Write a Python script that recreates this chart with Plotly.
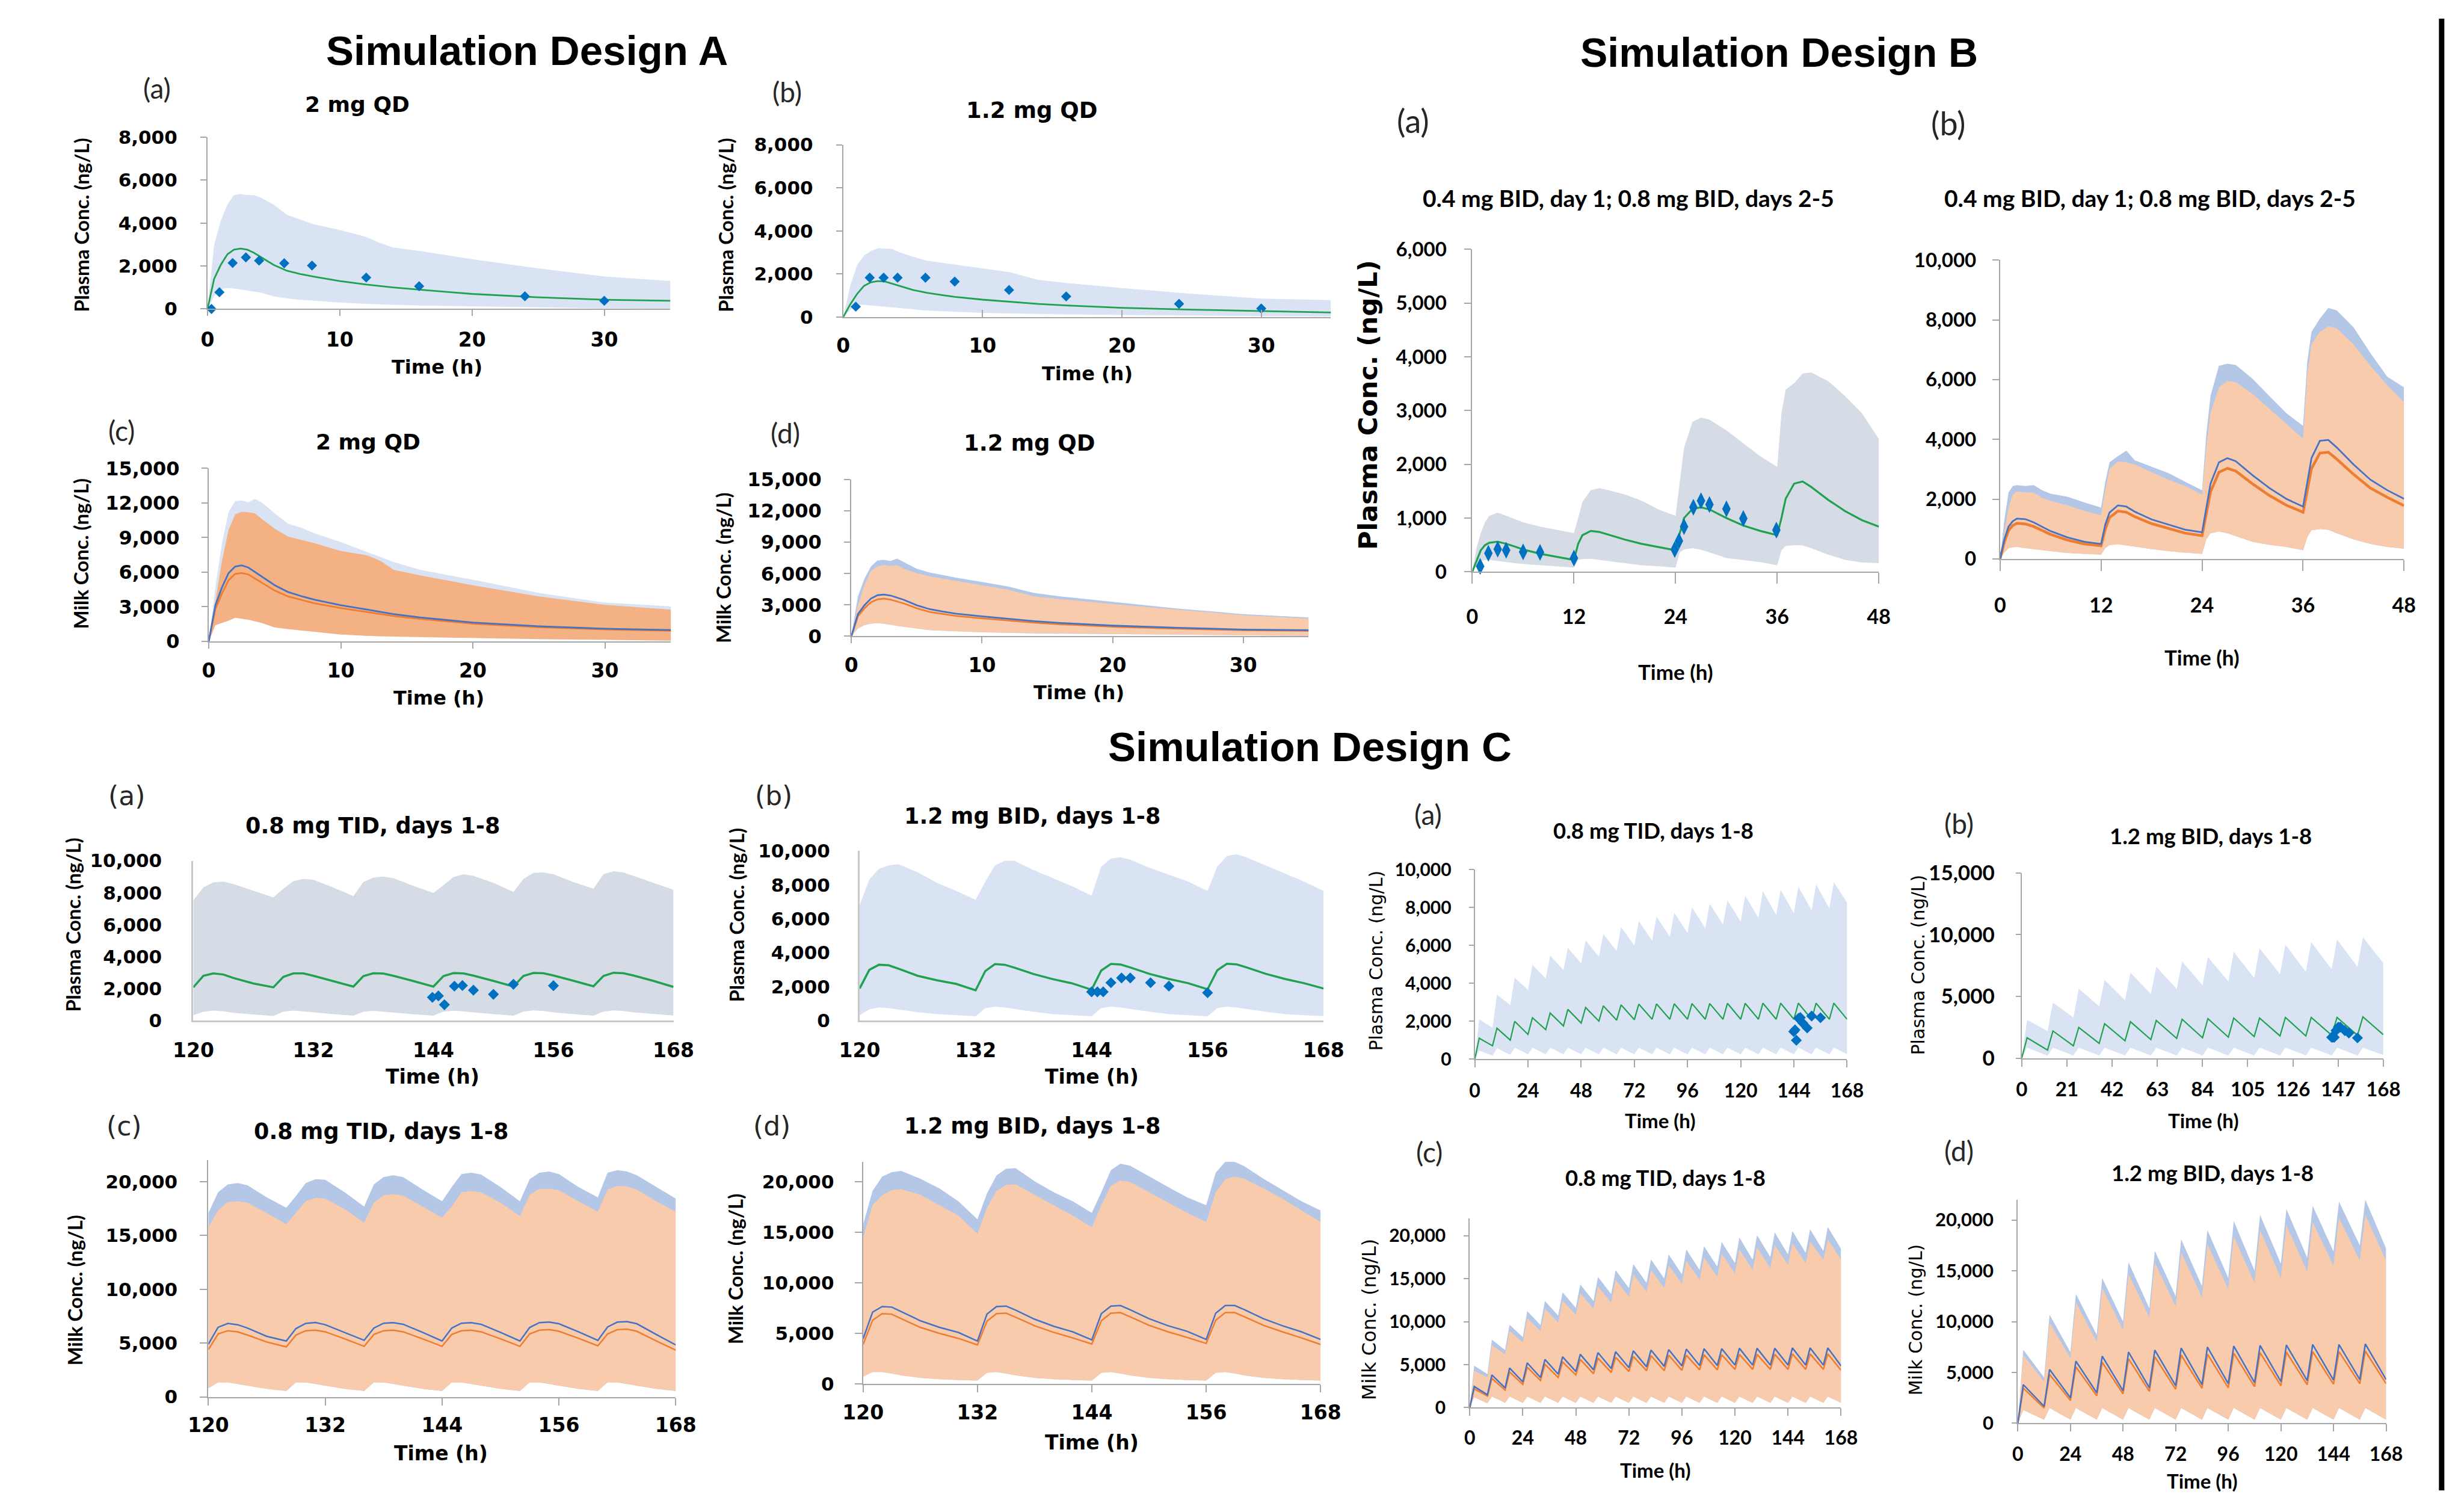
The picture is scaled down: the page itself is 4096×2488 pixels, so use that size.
import plotly.graph_objects as go

# ============================ DATA ============================
# ---- Design A : single dose, time grid (h)
tA = [0, 0.5, 1, 1.5, 2, 2.5, 3, 3.5, 4, 5, 6, 7, 8, 10, 12, 13, 14, 16, 20, 25, 30, 35]
# (a) plasma, 2 mg QD
A_a_p95 = [0, 2970, 4100, 4860, 5300, 5350, 5300, 5300, 5190, 4860, 4380, 4160, 3950, 3675, 3350, 3080, 2860, 2700, 2320, 1890, 1510, 1300]
A_a_p05 = [0, 590, 920, 970, 950, 910, 865, 810, 760, 590, 490, 430, 380, 300, 240, 215, 195, 160, 110, 75, 30, 20]
A_a_med = [0, 1400, 2050, 2540, 2760, 2810, 2760, 2620, 2430, 2050, 1780, 1630, 1510, 1300, 1135, 1065, 1005, 900, 700, 540, 430, 380]
A_a_obs_t = [0.3, 0.9, 1.9, 2.9, 3.9, 5.8, 7.9, 12, 16, 24, 30]
A_a_obs_v = [0, 780, 2140, 2400, 2250, 2130, 2020, 1460, 1060, 590, 380]
# (b) plasma, 1.2 mg QD
A_b_p95 = [0, 1455, 2425, 2860, 3070, 3200, 3180, 3160, 3020, 2800, 2620, 2530, 2450, 2260, 2080, 1900, 1725, 1585, 1350, 1080, 860, 790]
A_b_p05 = [0, 320, 570, 565, 540, 510, 485, 460, 430, 360, 300, 270, 250, 195, 165, 150, 140, 125, 100, 65, 45, 30]
A_b_med = [0, 590, 1080, 1455, 1620, 1670, 1650, 1560, 1455, 1260, 1130, 1030, 940, 810, 700, 650, 610, 540, 430, 345, 290, 215]
A_b_obs_t = [0.9, 1.9, 2.9, 3.9, 5.9, 8, 11.9, 16, 24.1, 30]
A_b_obs_v = [485, 1830, 1830, 1830, 1830, 1650, 1260, 960, 615, 400]
# (c) milk, 2 mg QD
A_c_p95_b = [0, 4670, 8510, 11200, 12160, 12220, 12060, 12350, 12060, 11100, 10200, 9850, 9370, 8600, 7740, 7300, 6880, 6200, 5340, 4190, 3360, 3035]
A_c_p95_o = [0, 3520, 6970, 9660, 11000, 11240, 11200, 11100, 10620, 9760, 9090, 8800, 8510, 7840, 7450, 6970, 6200, 5720, 4860, 3900, 3170, 2750]
A_c_p05 = [0, 1400, 1600, 1790, 2040, 1960, 1880, 1740, 1600, 1210, 1060, 940, 830, 600, 480, 440, 400, 360, 290, 190, 135, 60]
A_c_med_b = [0, 3130, 4670, 5920, 6490, 6590, 6400, 6020, 5630, 4860, 4280, 3920, 3610, 3130, 2750, 2550, 2360, 2075, 1630, 1310, 1095, 980]
A_c_med_o = [0, 2800, 4150, 5300, 5850, 5920, 5800, 5450, 5100, 4400, 3900, 3580, 3300, 2880, 2530, 2360, 2200, 1950, 1530, 1230, 1030, 920]
# (d) milk, 1.2 mg QD
A_d_p95_b = [0, 3820, 5520, 6680, 7260, 7320, 7210, 7430, 7110, 6470, 6110, 5860, 5620, 5200, 4770, 4450, 4140, 3820, 3290, 2650, 2120, 1800]
A_d_p95_o = [0, 2970, 4880, 6260, 6680, 6830, 6730, 6790, 6470, 6050, 5730, 5510, 5300, 4880, 4460, 4140, 3820, 3560, 3080, 2550, 2020, 1700]
A_d_p05 = [0, 740, 1060, 1200, 1270, 1190, 1100, 990, 890, 740, 590, 530, 470, 380, 330, 300, 275, 250, 190, 150, 85, 40]
A_d_med_b = [0, 2120, 2970, 3610, 3930, 3990, 3900, 3700, 3500, 2970, 2590, 2360, 2160, 1910, 1660, 1550, 1440, 1270, 1020, 810, 640, 575]
A_d_med_o = [0, 1900, 2680, 3260, 3540, 3600, 3510, 3330, 3150, 2680, 2330, 2130, 1950, 1720, 1500, 1400, 1300, 1150, 920, 730, 580, 520]

# ---- Design B : 0.4 mg BID day 1; 0.8 mg BID days 2-5
tB = [0, 0.5, 1, 1.5, 2, 3, 4, 5, 6, 8, 10, 12, 12.5, 13, 14, 15, 16, 18, 20, 22,
      24, 24.5, 25, 26, 27, 28, 30, 32, 34, 36, 36.5, 37, 38, 39, 40, 42, 44, 46, 48]
B_a_p95 = [0, 440, 720, 920, 1040, 1100, 1040, 980, 920, 840, 780, 720, 1000, 1300, 1520, 1556, 1520, 1440, 1320, 1160,
           1040, 1700, 2310, 2790, 2870, 2830, 2630, 2390, 2150, 1950, 2950, 3390, 3510, 3690, 3710, 3550, 3270, 2950, 2470]
B_a_p05 = [0, 120, 200, 215, 220, 200, 180, 160, 145, 120, 100, 80, 220, 235, 240, 225, 200, 160, 120, 100,
           80, 360, 415, 440, 410, 360, 255, 215, 180, 120, 400, 480, 495, 490, 440, 320, 220, 175, 160]
B_a_med = [0, 200, 400, 495, 540, 560, 520, 470, 415, 335, 280, 220, 520, 680, 760, 740, 695, 600, 520, 460,
           400, 720, 1000, 1170, 1200, 1160, 1000, 860, 760, 680, 1000, 1360, 1640, 1680, 1580, 1340, 1130, 960, 840]
B_obs_t = [0.93, 1.9, 3, 4, 6, 8, 12, 23.9, 24.4, 25, 26.1, 27, 28, 30, 32, 35.9]
B_obs_v = [100, 345, 420, 400, 370, 360, 255, 415, 575, 840, 1200, 1320, 1250, 1170, 990, 775]
B_b_p95_b = [0, 1290, 2220, 2440, 2470, 2440, 2470, 2300, 2180, 2080, 1890, 1720, 2580, 3230, 3440, 3620, 3300, 3085, 2870, 2580,
             2300, 4160, 5450, 6460, 6530, 6490, 6030, 5450, 4880, 4450, 6600, 7600, 8040, 8400, 8320, 7750, 6890, 6100, 5740]
B_b_p95_o = [0, 860, 1720, 2150, 2250, 2220, 2220, 2040, 1940, 1790, 1610, 1460, 2300, 3010, 3260, 3230, 3160, 2900, 2650, 2440,
             2150, 3730, 4880, 5740, 5950, 5910, 5520, 5020, 4520, 4020, 6170, 7180, 7600, 7780, 7720, 7180, 6460, 5810, 5240]
B_b_p05 = [0, 215, 360, 390, 400, 360, 330, 290, 260, 200, 170, 145, 360, 460, 490, 450, 400, 330, 260, 210,
           170, 650, 860, 920, 860, 760, 570, 470, 400, 290, 720, 960, 1000, 975, 860, 650, 500, 400, 345]
B_b_med_b = [0, 650, 1080, 1260, 1350, 1330, 1220, 1080, 930, 720, 575, 500, 1150, 1550, 1790, 1750, 1580, 1320, 1150, 975,
             890, 1720, 2510, 3230, 3370, 3270, 2800, 2370, 2010, 1750, 2580, 3370, 3950, 3980, 3730, 3160, 2650, 2300, 2010]
B_b_med_o = [0, 560, 950, 1120, 1190, 1170, 1080, 950, 820, 630, 500, 440, 1000, 1380, 1600, 1560, 1410, 1180, 1020, 860,
             780, 1520, 2240, 2900, 3030, 2940, 2510, 2120, 1800, 1560, 2320, 3020, 3540, 3570, 3340, 2830, 2370, 2060, 1780]

# ---- Design C, days 6-7 window (120-168 h)
tC_tid = [120, 121, 122, 123, 124, 126, 128, 129, 130, 131, 132, 134, 136, 137, 138, 139, 140, 142, 144,
          145, 146, 147, 148, 150, 152, 153, 154, 155, 156, 158, 160, 161, 162, 163, 164, 166, 168]
CL_a_p95 = [7530, 8330, 8650, 8690, 8540, 8110, 7700, 8250, 8720, 8860, 8810, 8330, 7790, 8660, 8950, 9010, 8910, 8430, 7990,
            8470, 8980, 9150, 9050, 8620, 8040, 8860, 9240, 9270, 9150, 8660, 8250, 9150, 9340, 9270, 9050, 8620, 8180]
CL_a_p05 = [330, 550, 625, 580, 480, 380, 290, 550, 625, 590, 520, 400, 300, 550, 610, 580, 500, 390, 300,
            560, 620, 590, 510, 400, 300, 560, 630, 600, 510, 400, 300, 560, 630, 600, 510, 400, 310]
CL_a_med = [2080, 2800, 2950, 2880, 2660, 2320, 2080, 2730, 2950, 2950, 2800, 2470, 2120, 2780, 2960, 2940, 2800, 2470, 2120,
            2780, 2970, 2950, 2810, 2480, 2130, 2790, 2980, 2960, 2820, 2490, 2140, 2790, 2990, 2960, 2820, 2480, 2100]
CL_c_p95_b = [17100, 19030, 19750, 19880, 19680, 18550, 17580, 18670, 19880, 20240, 20190, 19030, 17700, 19750, 20430, 20600, 20430, 19270, 18180,
              19510, 20720, 20840, 20670, 19510, 18180, 20240, 20840, 20960, 20720, 19510, 18550, 20840, 21080, 20960, 20600, 19510, 18430]
CL_c_p95_o = [15770, 17340, 18110, 18180, 18060, 17100, 16060, 17100, 18180, 18500, 18430, 17460, 16200, 18060, 18740, 18840, 18720, 17700, 16660,
              17700, 19030, 19150, 19030, 18060, 16810, 18790, 19340, 19340, 19220, 18180, 17220, 19270, 19630, 19560, 19270, 18180, 17220]
CL_c_p05 = [800, 1350, 1350, 1210, 1040, 750, 555, 1350, 1350, 1210, 1040, 750, 555, 1350, 1350, 1210, 1040, 750, 555,
            1350, 1350, 1210, 1040, 750, 555, 1350, 1350, 1210, 1040, 750, 555, 1350, 1350, 1210, 1040, 750, 555]
CL_c_med_b = [4900, 6470, 6830, 6710, 6400, 5630, 5190, 6350, 6830, 6910, 6710, 5990, 5260, 6400, 6850, 6900, 6750, 6000, 5200,
              6400, 6850, 6900, 6750, 6000, 5200, 6450, 6900, 6950, 6800, 6050, 5250, 6500, 6950, 7000, 6800, 5800, 4830]
CL_c_med_o = [4400, 5850, 6150, 6050, 5750, 5100, 4650, 5750, 6150, 6200, 6050, 5400, 4700, 5800, 6150, 6200, 6050, 5400, 4700,
              5800, 6150, 6200, 6050, 5400, 4700, 5850, 6200, 6250, 6100, 5450, 4750, 5850, 6250, 6300, 6100, 5200, 4350]

tC_bid = [120, 121, 122, 123, 124, 126, 128, 130, 132, 133, 134, 135, 136, 138, 140, 142, 144,
          145, 146, 147, 148, 150, 152, 154, 156, 157, 158, 159, 160, 162, 164, 166, 168]
CL_b_p95 = [6820, 8330, 8950, 9150, 9220, 8740, 8120, 7640, 7120, 8190, 9150, 9430, 9430, 8880, 8400, 7920, 7370,
            9080, 9560, 9630, 9490, 9010, 8600, 8190, 7640, 9080, 9700, 9810, 9630, 9150, 8670, 8190, 7640]
CL_b_p05 = [315, 660, 770, 730, 660, 490, 380, 315, 250, 730, 820, 770, 690, 520, 380, 315, 250,
            730, 820, 770, 690, 520, 380, 315, 250, 730, 820, 770, 690, 520, 380, 315, 260]
CL_b_med = [1890, 2990, 3290, 3260, 3060, 2640, 2370, 2160, 1780, 2920, 3330, 3290, 3120, 2740, 2440, 2190, 1820,
            2950, 3340, 3300, 3130, 2750, 2450, 2200, 1840, 2960, 3350, 3310, 3140, 2760, 2450, 2200, 1890]
CL_d_p95_b = [15760, 19100, 20520, 20950, 21080, 20310, 19360, 18070, 16280, 18850, 20640, 21290, 21340, 20050, 18970, 18070, 16920,
              18970, 21160, 21800, 21600, 20520, 19490, 18460, 17690, 20900, 21980, 21980, 21540, 20310, 19180, 18070, 17170]
CL_d_p95_o = [14470, 17690, 18670, 19180, 19280, 18720, 17690, 16660, 14860, 17430, 19100, 19690, 19740, 18720, 17690, 16660, 15500,
              17690, 19610, 20130, 20000, 18970, 17950, 16920, 16020, 18970, 20260, 20520, 20310, 19360, 18330, 17170, 16020]
CL_d_p05 = [720, 1180, 1180, 1030, 850, 590, 460, 390, 330, 1100, 1180, 1030, 850, 590, 460, 390, 330,
            1100, 1180, 1030, 850, 590, 460, 390, 330, 1100, 1180, 1030, 850, 590, 460, 390, 330]
CL_d_med_b = [4450, 7100, 7650, 7600, 7150, 6250, 5600, 5090, 4240, 6900, 7650, 7700, 7300, 6400, 5700, 5150, 4350,
              6950, 7700, 7750, 7350, 6450, 5750, 5200, 4400, 7000, 7750, 7750, 7350, 6450, 5750, 5150, 4400]
CL_d_med_o = [3900, 6300, 6950, 6900, 6450, 5600, 5000, 4500, 3860, 6200, 6950, 7000, 6600, 5750, 5100, 4550, 3950,
              6250, 7000, 7050, 6650, 5800, 5150, 4600, 4000, 6300, 7050, 7050, 6650, 5800, 5150, 4550, 3900]

# observed plasma concentrations (Design C)
C_obs_tid_t = [143.9, 144.5, 145.1, 146.1, 146.9, 148, 150, 152, 156]
C_obs_tid_v = [1450, 1540, 990, 2150, 2190, 1900, 1640, 2270, 2180]
C_obs_bid_t = [144, 144.6, 145.2, 146, 147.1, 148, 150.1, 152, 156]
C_obs_bid_v = [1690, 1690, 1690, 2230, 2510, 2510, 2230, 2030, 1640]

# ---- Design C, full 0-168 h (trough / peak per dose)
tR_tid = [0, 2, 8, 10, 16, 18, 24, 26, 32, 34, 40, 42, 48, 50, 56, 58, 64, 66, 72, 74, 80, 82,
          88, 90, 96, 98, 104, 106, 112, 114, 120, 122, 128, 130, 136, 138, 144, 146, 152, 154, 160, 162, 168]
CR_a_p95 = [0, 2100, 1650, 3400, 2850, 4300, 3650, 4975, 4250, 5460, 4700, 5870, 5050, 6260, 5400, 6600, 5700, 6965, 6000, 7280, 6250, 7520,
            6450, 7720, 6650, 8010, 6900, 8200, 7100, 8370, 7250, 8620, 7450, 8860, 7600, 8930, 7700, 9100, 7850, 9220, 7950, 9340, 8250]
CR_a_p05 = [0, 450, 180, 580, 230, 600, 250, 600, 250, 600, 250, 600, 250, 600, 250, 600, 250, 600, 250, 600, 250, 600,
            250, 600, 250, 600, 250, 600, 250, 600, 250, 600, 250, 600, 250, 600, 250, 600, 250, 600, 250, 600, 260]
CR_a_med = [0, 1100, 700, 1630, 1000, 1990, 1300, 2180, 1550, 2430, 1750, 2620, 1900, 2720, 2000, 2810, 2050, 2860, 2080, 2900, 2100, 2910,
            2100, 2920, 2100, 2930, 2100, 2930, 2100, 2940, 2100, 2940, 2100, 2950, 2100, 2950, 2100, 2950, 2100, 2950, 2100, 2950, 2100]
CR_c_p95_b = [0, 4870, 3900, 7900, 6700, 9630, 8200, 11230, 9600, 12400, 10700, 13420, 11600, 14330, 12400, 15190, 13200, 15990, 13900, 16690, 14500, 17220,
              15000, 17810, 15500, 18400, 16000, 18770, 16400, 19250, 16800, 19790, 17200, 20050, 17500, 20380, 17800, 20540, 18000, 20750, 18200, 21020, 18450]
CR_c_p95_o = [0, 4300, 3500, 7250, 6200, 8900, 7600, 10400, 8900, 11500, 9900, 12450, 10800, 13300, 11500, 14100, 12200, 14850, 12900, 15500, 13450, 16000,
              13900, 16550, 14400, 17100, 14850, 17450, 15200, 17900, 15600, 18400, 16000, 18650, 16200, 18900, 16600, 19100, 16800, 19300, 17200, 19550, 17250]
CR_c_p05 = [0, 1200, 500, 1300, 550, 1300, 550, 1300, 550, 1300, 550, 1300, 550, 1300, 550, 1300, 550, 1300, 550, 1300, 550, 1300,
            550, 1300, 550, 1300, 550, 1300, 550, 1300, 550, 1300, 550, 1300, 550, 1300, 550, 1300, 550, 1300, 550, 1300, 550]
CR_c_med_b = [0, 2460, 1500, 3800, 2300, 4600, 3000, 5200, 3500, 5600, 3900, 5900, 4200, 6200, 4400, 6400, 4550, 6500, 4650, 6600, 4750, 6700,
              4800, 6750, 4850, 6800, 4900, 6850, 4900, 6850, 4950, 6900, 4950, 6900, 4950, 6900, 4950, 6950, 4950, 6950, 4950, 6950, 4850]
CR_c_med_o = [0, 2200, 1350, 3400, 2050, 4150, 2700, 4700, 3150, 5050, 3500, 5300, 3800, 5600, 3950, 5750, 4100, 5850, 4200, 5950, 4300, 6050,
              4300, 6100, 4350, 6100, 4400, 6150, 4400, 6150, 4450, 6200, 4450, 6200, 4450, 6200, 4450, 6250, 4450, 6250, 4450, 6250, 4350]

tR_bid = [0, 2.5, 12, 14.5, 24, 26.5, 36, 38.5, 48, 50.5, 60, 62.5, 72, 74.5, 84, 86.5, 96, 98.5,
          108, 110.5, 120, 122.5, 132, 134.5, 144, 146.5, 156, 158.5, 168]
CR_b_p95 = [0, 3100, 2200, 4500, 3300, 5620, 4200, 6330, 4700, 6920, 5200, 7410, 5600, 7820, 5900, 8190, 6200, 8600,
            6500, 8900, 6800, 9190, 7000, 9380, 7200, 9600, 7400, 9790, 7700]
CR_b_p05 = [0, 850, 200, 850, 220, 850, 220, 850, 220, 850, 220, 850, 220, 850, 220, 850, 220, 850,
            220, 850, 220, 850, 220, 850, 220, 850, 220, 850, 250]
CR_b_med = [0, 1650, 650, 2200, 1000, 2490, 1200, 2790, 1400, 2950, 1500, 3050, 1600, 3150, 1650, 3200, 1700, 3250,
            1750, 3250, 1800, 3300, 1800, 3300, 1850, 3300, 1850, 3350, 1900]
CR_d_p95_b = [0, 7240, 4500, 10680, 7000, 12720, 8700, 14300, 10000, 15840, 11300, 16970, 12500, 18100, 13500, 19000, 14300, 19910,
              15000, 20500, 15700, 21090, 16300, 21400, 16900, 21810, 17500, 22000, 17200]
CR_d_p95_o = [0, 6700, 4100, 9900, 6400, 11900, 8000, 13300, 9200, 14700, 10400, 15800, 11500, 16800, 12400, 17600, 13200, 18400,
              13800, 19000, 14300, 19500, 14900, 19800, 15500, 20200, 16000, 20500, 16000]
CR_d_p05 = [0, 1300, 350, 1500, 350, 1500, 350, 1500, 350, 1500, 350, 1500, 350, 1500, 350, 1500, 350, 1500,
            350, 1500, 350, 1500, 350, 1500, 350, 1500, 350, 1500, 350]
CR_d_med_b = [0, 3800, 1670, 5290, 2500, 6110, 3000, 6600, 3200, 7000, 3500, 7200, 3700, 7400, 3800, 7500, 3900, 7600,
              4000, 7650, 4100, 7700, 4200, 7750, 4250, 7750, 4300, 7800, 4300]
CR_d_med_o = [0, 3450, 1500, 4800, 2250, 5550, 2700, 6000, 2900, 6350, 3150, 6550, 3350, 6700, 3450, 6800, 3500, 6900,
              3600, 6950, 3700, 7000, 3800, 7050, 3850, 7050, 3900, 7100, 3900]

# ---- tick values
XT_A = [0, 10, 20, 30]
YT_A_PL = [0, 2000, 4000, 6000, 8000]
YT_A_MK = [0, 3000, 6000, 9000, 12000, 15000]
XT_B = [0, 12, 24, 36, 48]
YT_B_A = [0, 1000, 2000, 3000, 4000, 5000, 6000]
YT_B_B = [0, 2000, 4000, 6000, 8000, 10000]
XT_CL = [120, 132, 144, 156, 168]
YT_PL10 = [0, 2000, 4000, 6000, 8000, 10000]
YT_MK20 = [0, 5000, 10000, 15000, 20000]
XT_CR = [0, 24, 48, 72, 96, 120, 144, 168]
XT_CR_B = [0, 21, 42, 63, 84, 105, 126, 147, 168]
YT_CR_B = [0, 5000, 10000, 15000]

# ============================ STYLE ============================
REF_W, REF_H = 4325, 2627
OUT_W, OUT_H = 4096, 2488
S = OUT_W / REF_W

LIGHT_BLUE = '#DAE3F3'
MID_BLUE = '#B4C7E7'
GREY_BAND = '#D6DCE5'
ORANGE_L = '#F8CBAD'
ORANGE_D = '#F4B183'
GREEN = '#1FA150'
BLUE_LINE = '#4472C4'
ORANGE_LINE = '#ED7D31'
DIAMOND = '#0070C0'
AXIS_GREY = '#A6A6A6'

LATO = 'Lato'
DJV = 'DejaVu Sans'
ARIAL = 'Liberation Sans'


def fx(x):
    return x / REF_W


def fy(y):
    return 1 - y / REF_H


fig = go.Figure()
layout_axes = {}
annotations = []


def ax_names(i):
    s = '' if i == 1 else str(i)
    return 'x' + s, 'y' + s


def fmt(v):
    return f"{v:,}"


def make_axes(i, box, xr, yr, xt, yt, fam, xfs, yfs, xoff, ygap,
              xticks='outside', xtl=0, yticks='outside', ytl=0, lc=AXIS_GREY, lw=2):
    x0, x1, ybot, ytop = box
    xn, yn = ax_names(i)
    xk = 'xaxis' if i == 1 else f'xaxis{i}'
    yk = 'yaxis' if i == 1 else f'yaxis{i}'
    xtl_eff = xtl if xticks == 'outside' else 0
    ytl_eff = ytl if yticks == 'outside' else 0
    # xoff: distance (reference px) from the x axis line to the centre of the tick labels
    xstand = max(0, round(xoff * S - xtl_eff - 0.8 * xfs - 2))
    ystand = max(0, round(ygap * S - ytl_eff - 2))
    layout_axes[xk] = dict(domain=[fx(x0), fx(x1)], range=xr, anchor=yn,
                           tickmode='array', tickvals=xt, ticktext=[fmt(v) for v in xt],
                           showline=True, linecolor=lc, linewidth=lw, showgrid=False, zeroline=False,
                           ticks=xticks, ticklen=xtl if xtl else 5, tickcolor=lc, tickwidth=2,
                           ticklabelstandoff=xstand,
                           tickfont=dict(family=fam, size=xfs, color='black', weight='bold'),
                           fixedrange=True)
    layout_axes[yk] = dict(domain=[fy(ybot), fy(ytop)], range=yr, anchor=xn,
                           tickmode='array', tickvals=yt, ticktext=[fmt(v) for v in yt],
                           showline=True, linecolor=lc, linewidth=lw, showgrid=False, zeroline=False,
                           ticks=yticks, ticklen=ytl if ytl else 5, tickcolor=lc, tickwidth=2,
                           ticklabelstandoff=ystand,
                           tickfont=dict(family=fam, size=yfs, color='black', weight='bold'),
                           fixedrange=True)


def band(i, t, hi, lo, color):
    xn, yn = ax_names(i)
    fig.add_trace(go.Scatter(x=list(t) + list(t)[::-1], y=list(hi) + list(lo)[::-1],
                             fill='toself', fillcolor=color, mode='lines', line=dict(width=0),
                             hoverinfo='skip', showlegend=False, xaxis=xn, yaxis=yn))


def curve(i, t, v, color, width):
    xn, yn = ax_names(i)
    fig.add_trace(go.Scatter(x=t, y=v, mode='lines', line=dict(color=color, width=width),
                             hoverinfo='skip', showlegend=False, xaxis=xn, yaxis=yn))


def points(i, t, v, size, symbol='diamond'):
    xn, yn = ax_names(i)
    fig.add_trace(go.Scatter(x=t, y=v, mode='markers', cliponaxis=False,
                             marker=dict(symbol=symbol, size=size, color=DIAMOND, line=dict(width=0)),
                             hoverinfo='skip', showlegend=False, xaxis=xn, yaxis=yn))


def text(x, y, s, size, family, weight='normal', angle=0, color='black'):
    annotations.append(dict(x=fx(x), y=fy(y), xref='paper', yref='paper', text=s, showarrow=False,
                            xanchor='center', yanchor='middle', textangle=angle,
                            font=dict(family=family, size=size, color=color, weight=weight)))


# ============================ PANELS ============================
# ---------- Design A
make_axes(1, (325.3, 1151.5, 518.2, 211.4), [0, 35], [0, 8000], XT_A, YT_A_PL, DJV, 33, 31, 51.8, 46, 'outside', 10, 'outside', 10)
band(1, tA, A_a_p95, A_a_p05, LIGHT_BLUE)
curve(1, tA, A_a_med, GREEN, 2.8)
points(1, A_a_obs_t, A_a_obs_v, 13)

make_axes(2, (1460, 2330.5, 532.7, 225.1), [0, 35], [0, 8000], XT_A, YT_A_PL, DJV, 33, 31, 47.7, 46, 'inside', 12, 'outside', 10)
band(2, tA, A_b_p95, A_b_p05, LIGHT_BLUE)
curve(2, tA, A_b_med, GREEN, 2.8)
points(2, A_b_obs_t, A_b_obs_v, 13)

make_axes(3, (327.5, 1152.5, 1111.5, 802.7), [0, 35], [0, 15000], XT_A, YT_A_MK, DJV, 33, 32, 49.4, 44.5, 'outside', 10, 'outside', 10)
band(3, tA, A_c_p95_b, A_c_p05, LIGHT_BLUE)
band(3, tA, A_c_p95_o, A_c_p05, ORANGE_D)
curve(3, tA, A_c_med_o, ORANGE_LINE, 2.8)
curve(3, tA, A_c_med_b, BLUE_LINE, 2.8)

make_axes(4, (1474.5, 2290.7, 1102.4, 822.8), [0, 35], [0, 15000], XT_A, YT_A_MK, DJV, 33, 32, 49.4, 45, 'outside', 10, 'outside', 10)
band(4, tA, A_d_p95_b, A_d_p05, MID_BLUE)
band(4, tA, A_d_p95_o, A_d_p05, ORANGE_L)
curve(4, tA, A_d_med_o, ORANGE_LINE, 2.8)
curve(4, tA, A_d_med_b, BLUE_LINE, 2.8)

# ---------- Design B
make_axes(5, (2582.8, 3308.5, 987.3, 411.7), [0, 48], [0, 6000], XT_B, YT_B_A, LATO, 34, 33, 77, 38.3, 'outside', 18, 'outside', 11)
band(5, tB, B_a_p95, B_a_p05, GREY_BAND)
curve(5, tB, B_a_med, GREEN, 3.2)
points(5, B_obs_t, B_obs_v, 20, 'diamond-tall')

make_axes(6, (3524.9, 4245.9, 964.3, 430.9), [0, 48], [0, 10000], XT_B, YT_B_B, LATO, 34, 33, 79, 35.3, 'outside', 18, 'outside', 11)
band(6, tB, B_b_p95_b, B_b_p05, MID_BLUE)
band(6, tB, B_b_p95_o, B_b_p05, ORANGE_L)
curve(6, tB, B_b_med_o, ORANGE_LINE, 4.5)
curve(6, tB, B_b_med_b, BLUE_LINE, 2.8)

# ---------- Design C (120-168 h)
make_axes(7, (300, 1157, 1788.3, 1503.1), [120, 168], [0, 10000], XT_CL, YT_PL10, DJV, 33, 31, 48.5, 47.5, '', 0, '', 0, '#C8C8C8', 3)
band(7, tC_tid, CL_a_p95, CL_a_p05, GREY_BAND)
curve(7, tC_tid, CL_a_med, GREEN, 3.5)
points(7, C_obs_tid_t, C_obs_tid_v, 14)

make_axes(8, (1489.3, 2317.3, 1788.3, 1485.7), [120, 168], [0, 10000], XT_CL, YT_PL10, DJV, 33, 31, 49.4, 44.4, '', 0, '', 0, '#C8C8C8', 3)
band(8, tC_bid, CL_b_p95, CL_b_p05, LIGHT_BLUE)
curve(8, tC_bid, CL_b_med, GREEN, 3.5)
points(8, C_obs_bid_t, C_obs_bid_v, 14)

make_axes(9, (326.8, 1161, 2460.1, 2037.7), [120, 168], [0, 22000], XT_CL, YT_MK20, DJV, 33, 31, 48.2, 47.5, 'outside', 12, 'outside', 12)
band(9, tC_tid, CL_c_p95_b, CL_c_p05, MID_BLUE)
band(9, tC_tid, CL_c_p95_o, CL_c_p05, ORANGE_L)
curve(9, tC_tid, CL_c_med_o, ORANGE_LINE, 2.5)
curve(9, tC_tid, CL_c_med_b, BLUE_LINE, 2.5)

make_axes(10, (1495.4, 2312, 2436.9, 2040.1), [120, 168], [0, 22000], XT_CL, YT_MK20, DJV, 33, 31, 48.2, 44.4, 'outside', 12, 'outside', 12)
band(10, tC_bid, CL_d_p95_b, CL_d_p05, MID_BLUE)
band(10, tC_bid, CL_d_p95_o, CL_d_p05, ORANGE_L)
curve(10, tC_bid, CL_d_med_o, ORANGE_LINE, 2.5)
curve(10, tC_bid, CL_d_med_b, BLUE_LINE, 2.5)

# ---------- Design C (0-168 h)
make_axes(11, (2587.3, 3251.8, 1857.1, 1518.9), [0, 168], [0, 10000], XT_CR, YT_PL10, LATO, 32, 30, 53.5, 35, 'outside', 12, 'outside', 8)
band(11, tR_tid, CR_a_p95, CR_a_p05, LIGHT_BLUE)
curve(11, tR_tid, CR_a_med, GREEN, 2.2)
points(11, C_obs_tid_t, C_obs_tid_v, 14)

make_axes(12, (3563.5, 4208.9, 1855.5, 1524.7), [0, 168], [0, 15000], XT_CR_B, YT_CR_B, LATO, 33, 35, 53.5, 40, 'outside', 12, 'outside', 8)
band(12, tR_bid, CR_b_p95, CR_b_p05, LIGHT_BLUE)
curve(12, tR_bid, CR_b_med, GREEN, 2.2)
points(12, C_obs_bid_t, C_obs_bid_v, 14)

make_axes(13, (2578.3, 3241, 2479.3, 2141.6), [0, 168], [0, 22000], XT_CR, YT_MK20, LATO, 32, 30, 51, 35.7, 'outside', 12, 'outside', 8)
band(13, tR_tid, CR_c_p95_b, CR_c_p05, MID_BLUE)
band(13, tR_tid, CR_c_p95_o, CR_c_p05, ORANGE_L)
curve(13, tR_tid, CR_c_med_o, ORANGE_LINE, 2.5)
curve(13, tR_tid, CR_c_med_b, BLUE_LINE, 2.5)

make_axes(14, (3556.5, 4213.9, 2507.2, 2108.1), [0, 168], [0, 22000], XT_CR, YT_MK20, LATO, 32, 31, 52.5, 36, 'outside', 12, 'outside', 8)
band(14, tR_bid, CR_d_p95_b, CR_d_p05, MID_BLUE)
band(14, tR_bid, CR_d_p95_o, CR_d_p05, ORANGE_L)
curve(14, tR_bid, CR_d_med_o, ORANGE_LINE, 2.5)
curve(14, tR_bid, CR_d_med_b, BLUE_LINE, 2.5)

# ============================ TEXT ============================
text(896, 57, 'Simulation Design A', 69, ARIAL, 'bold')
text(3130, 60, 'Simulation Design B', 68, ARIAL, 'bold')
text(2293, 1300, 'Simulation Design C', 69, ARIAL, 'bold')

# panel letters
for x, y, s, size, fam in [(235, 124, '(a)', 46, LATO), (1360, 131, '(b)', 46, LATO),
                           (172, 735, '(c)', 46, LATO), (1357, 739, '(d)', 46, LATO),
                           (2477, 182, '(a)', 54, LATO), (3433, 186, '(b)', 54, LATO),
                           (181, 1387, '(a)', 44, DJV), (1336, 1387, '(b)', 44, DJV),
                           (177, 1977, '(c)', 44, DJV), (1332, 1977, '(d)', 44, DJV),
                           (2504, 1420, '(a)', 46, LATO), (3452, 1437, '(b)', 46, LATO),
                           (2506, 2023, '(c)', 46, LATO), (3452, 2021, '(d)', 46, LATO)]:
    text(x, y, s, size, fam, 'normal', 0, '#262626')

# panel titles
for x, y, s, size, fam in [(593, 153, '2 mg QD', 36, DJV), (1797, 164, '1.2 mg QD', 37, DJV),
                           (612, 756, '2 mg QD', 36, DJV), (1793, 758, '1.2 mg QD', 37, DJV),
                           (2861, 320, '0.4 mg BID, day 1; 0.8 mg BID, days 2-5', 39, LATO),
                           (3792, 320, '0.4 mg BID, day 1; 0.8 mg BID, days 2-5', 39, LATO),
                           (620, 1441, '0.8 mg TID, days 1-8', 36.5, DJV), (1797, 1424, '1.2 mg BID, days 1-8', 36.5, DJV),
                           (635, 1986, '0.8 mg TID, days 1-8', 36.5, DJV), (1797, 1977, '1.2 mg BID, days 1-8', 36.5, DJV),
                           (2906, 1449, '0.8 mg TID, days 1-8', 36.5, LATO), (3901, 1459, '1.2 mg BID, days 1-8', 36.5, LATO),
                           (2927, 2069, '0.8 mg TID, days 1-8', 36.5, LATO), (3904, 2060, '1.2 mg BID, days 1-8', 36.5, LATO)]:
    text(x, y, s, size, fam, 'bold')

# x-axis titles
for x, y, size, fam in [(735, 622, 32, DJV), (1896, 634, 32, DJV), (738, 1213, 32, DJV), (1881, 1203, 32, DJV),
                        (2946, 1165, 35, LATO), (3885, 1140, 35, LATO),
                        (727, 1889, 33, DJV), (1904, 1889, 33, DJV), (742, 2561, 33, DJV), (1904, 2542, 33, DJV),
                        (2918, 1966, 33, LATO), (3887, 1966, 33, LATO), (2909, 2590, 33, LATO), (3885, 2610, 33, LATO)]:
    text(x, y, 'Time (h)', size, fam, 'bold')

# y-axis titles
for x, y, s, size, fam, w in [(100, 368, 'Plasma Conc. (ng/L)', 33, LATO, 'bold'), (1249, 368, 'Plasma Conc. (ng/L)', 33, LATO, 'bold'),
                              (99, 955, 'Milk Conc. (ng/L)', 33, LATO, 'bold'), (1246, 980, 'Milk Conc. (ng/L)', 33, LATO, 'bold'),
                              (2396, 689, 'Plasma Conc. (ng/L)', 43, DJV, 'bold'),
                              (84, 1617, 'Plasma Conc. (ng/L)', 33, LATO, 'bold'), (1269, 1600, 'Plasma Conc. (ng/L)', 33, LATO, 'bold'),
                              (88, 2269, 'Milk Conc. (ng/L)', 33, LATO, 'bold'), (1267, 2231, 'Milk Conc. (ng/L)', 33, LATO, 'bold'),
                              (2411, 1681, 'Plasma Conc. (ng/L)', 30, DJV, 'normal'), (3379, 1689, 'Plasma Conc. (ng/L)', 30, DJV, 'normal'),
                              (2399, 2322, 'Milk Conc. (ng/L)', 32, DJV, 'normal'), (3374, 2322, 'Milk Conc. (ng/L)', 30, DJV, 'normal')]:
    text(x, y, s, size, fam, w, -90)

fig.update_layout(
    width=OUT_W, height=OUT_H, autosize=False,
    margin=dict(l=0, r=0, t=0, b=0, pad=0),
    paper_bgcolor='white', plot_bgcolor='white',
    showlegend=False,
    annotations=annotations,
    shapes=[dict(type='line', xref='paper', yref='paper', x0=fx(4313), x1=fx(4313), y0=0, y1=1,
                 line=dict(color='black', width=9))],
    **layout_axes,
)

fig.write_html("out.html")
